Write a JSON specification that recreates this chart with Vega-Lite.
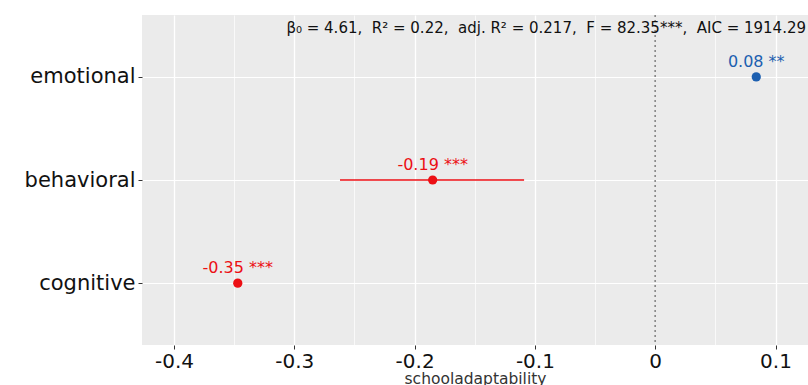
{
  "$schema": "https://vega.github.io/schema/vega-lite/v6.json",
  "width": 666,
  "height": 330,
  "autosize": {"type": "none"},
  "padding": {"left": 142, "top": 15, "right": 0, "bottom": 40},
  "background": "white",
  "config": {
    "view": {"fill": "#EBEBEB", "stroke": null},
    "font": "DejaVu Sans",
    "axis": {"domain": false}
  },
  "title": {
    "text": "β₀ = 4.61,  \u00a0R² = 0.22,  \u00a0adj. R² = 0.217,  \u00a0F = 82.35***,  \u00a0AIC = 1914.29",
    "anchor": "end",
    "orient": "top",
    "offset": -21,
    "dx": -2,
    "fontSize": 15,
    "fontWeight": "normal",
    "color": "#111111",
    "font": "DejaVu Sans"
  },
  "data": {
    "values": [
      {"term": "emotional", "estimate": 0.084, "lo": 0.082, "hi": 0.086, "label": "0.08 **", "dir": "positive"},
      {"term": "behavioral", "estimate": -0.185, "lo": -0.262, "hi": -0.109, "label": "-0.19 ***", "dir": "negative"},
      {"term": "cognitive", "estimate": -0.347, "lo": -0.349, "hi": -0.345, "label": "-0.35 ***", "dir": "negative"}
    ]
  },
  "encoding": {
    "y": {
      "field": "term",
      "type": "nominal",
      "sort": ["emotional", "behavioral", "cognitive"],
      "scale": {"type": "point", "padding": 0.6},
      "axis": {
        "title": null,
        "grid": true,
        "labelFontSize": 21,
        "labelColor": "#111111",
        "labelPadding": 3,
        "tickSize": 4,
        "tickColor": "#333333",
        "gridColor": "white",
        "gridWidth": 1.2
      }
    }
  },
  "layer": [
    {
      "mark": {"type": "rule", "strokeDash": [2, 3], "color": "#888888", "strokeWidth": 1},
      "encoding": {"x": {"datum": 0, "type": "quantitative"}, "y": null}
    },
    {
      "mark": {"type": "rule", "strokeWidth": 1.3},
      "encoding": {
        "x": {
          "field": "lo",
          "type": "quantitative",
          "scale": {"domain": [-0.4266, 0.127], "nice": false, "zero": false},
          "axis": {
            "grid": true,
            "title": "schooladaptability",
            "titleFontSize": 15.5,
            "titleFontWeight": "normal",
            "titleColor": "#333333",
            "titlePadding": 0,
            "values": [-0.4, -0.35, -0.3, -0.25, -0.2, -0.15, -0.1, -0.05, 0, 0.05, 0.1],
            "labelExpr": "round(datum.value*20) % 2 != 0 ? '' : replace(format(datum.value, '~g'), '−', '-')",
            "labelFontSize": 20,
            "labelColor": "#111111",
            "labelPadding": 2,
            "tickColor": "#333333",
            "tickSize": {"condition": {"test": "round(datum.value*20) % 2 != 0", "value": 0}, "value": 4},
            "gridColor": {"condition": {"test": "datum.value == 0", "value": "#EBEBEB"}, "value": "white"},
            "gridWidth": {"condition": {"test": "round(datum.value*20) % 2 != 0", "value": 0.7}, "value": 1.3}
          }
        },
        "x2": {"field": "hi"},
        "color": {
          "field": "dir",
          "type": "nominal",
          "scale": {"domain": ["positive", "negative"], "range": ["#1c5fb0", "#ec0f14"]},
          "legend": null
        }
      }
    },
    {
      "mark": {"type": "point", "filled": true, "opacity": 1, "size": 85},
      "encoding": {
        "x": {"field": "estimate", "type": "quantitative"},
        "color": {"field": "dir", "type": "nominal"}
      }
    },
    {
      "mark": {"type": "text", "dy": -15, "fontSize": 16, "baseline": "middle", "align": "center"},
      "encoding": {
        "x": {"field": "estimate", "type": "quantitative"},
        "text": {"field": "label"},
        "color": {"field": "dir", "type": "nominal"}
      }
    }
  ]
}
